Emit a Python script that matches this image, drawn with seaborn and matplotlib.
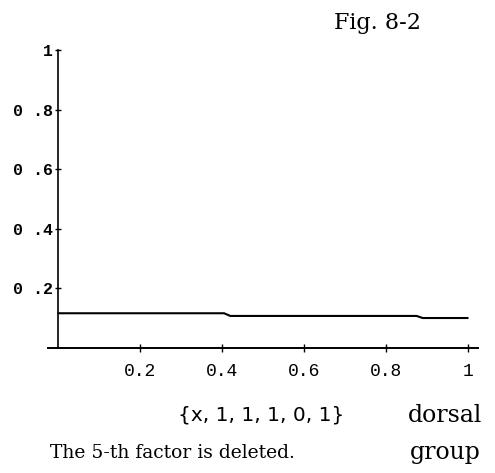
import matplotlib
matplotlib.use("Agg")
import matplotlib.pyplot as plt
import seaborn as sns
import pandas as pd

# step curve
x_vals = [0.0, 0.405, 0.42, 0.875, 0.89, 1.0]
y_vals = [0.116, 0.116, 0.107, 0.107, 0.100, 0.100]

x_ticks = [0.2, 0.4, 0.6, 0.8, 1.0]
x_tick_labels = ["0.2", "0.4", "0.6", "0.8", "1"]
y_ticks = [0.2, 0.4, 0.6, 0.8, 1.0]
y_tick_labels = ["0 .2", "0 .4", "0 .6", "0 .8", "1"]

sns.set_style("white")
plt.rcParams['font.family'] = ['DejaVu Sans']
plt.rcParams['text.color'] = 'black'

df = pd.DataFrame({"x": x_vals, "y": y_vals})

fig = plt.figure(figsize=(4.95, 4.73), dpi=100)
ax = fig.add_axes([48 / 495, (473 - 347.8) / 473, 430 / 495, 297.8 / 473])

sns.lineplot(data=df, x="x", y="y", sort=False, estimator=None,
             color="black", linewidth=1.5, ax=ax)

ax.set_xlim(-0.025, 1.025)
ax.set_ylim(0, 1.0)
ax.spines['top'].set_visible(False)
ax.spines['right'].set_visible(False)
ax.spines['left'].set_position(('data', 0))
ax.spines['bottom'].set_position(('data', 0))
ax.spines['left'].set_linewidth(1.2)
ax.spines['bottom'].set_linewidth(1.4)
ax.spines['left'].set_color("black")
ax.spines['bottom'].set_color("black")

ax.set_xticks(x_ticks)
ax.set_xticklabels(x_tick_labels, family="Liberation Mono", fontsize=13)
ax.set_yticks(y_ticks)
ax.set_yticklabels(y_tick_labels, family="Liberation Mono", fontsize=12,
                   fontweight="bold")
ax.tick_params(axis='x', bottom=True, direction='inout', length=6, width=1,
               pad=8, colors="black")
ax.tick_params(axis='y', left=True, direction='inout', length=5, width=1,
               pad=1, colors="black")
ax.set_xlabel("")
ax.set_ylabel("")

fig.text(334 / 495, 1 - 23 / 473, "Fig. 8-2", family="DejaVu Serif",
         fontsize=16, ha="left", va="center", color="black")
fig.text(178 / 495, 1 - 415 / 473, "{x, 1, 1, 1, 0, 1}", family="DejaVu Sans",
         fontsize=14.5, ha="left", va="center", color="black")
fig.text(445 / 495, 1 - 415 / 473, "dorsal", family="DejaVu Serif",
         fontsize=17, ha="center", va="center", color="black")
fig.text(445 / 495, 1 - 452 / 473, "group", family="DejaVu Serif",
         fontsize=17, ha="center", va="center", color="black")
fig.text(50 / 495, 1 - 453 / 473, "The 5-th factor is deleted.",
         family="DejaVu Serif", fontsize=13.5, ha="left", va="center",
         color="black")

plt.savefig("out.png", dpi=100)
plt.close()
